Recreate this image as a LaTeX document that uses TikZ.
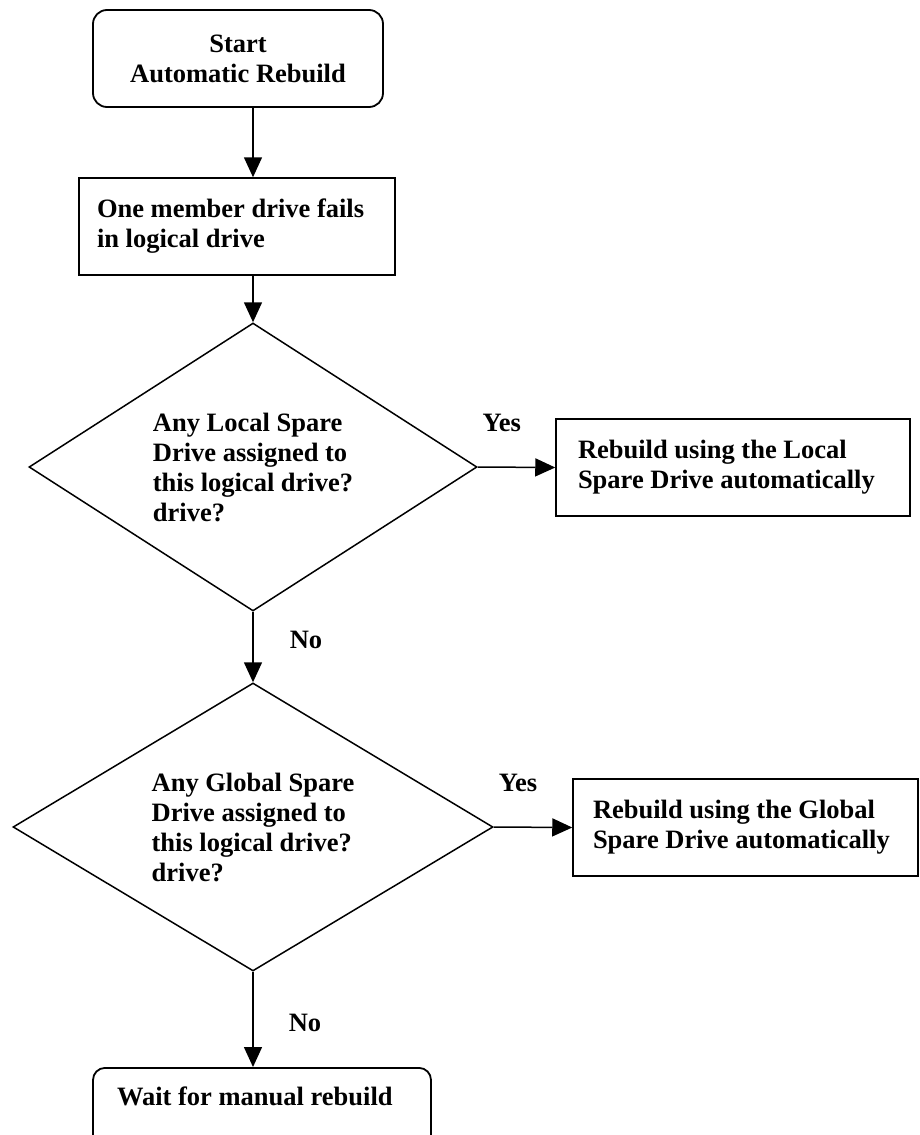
\documentclass[tikz,border=0pt]{standalone}
\usepackage{fontspec}
\setmainfont{Liberation Serif}
\usetikzlibrary{shapes.geometric, arrows.meta}
\tikzstyle{startstop} = [rectangle, rounded corners=14pt, minimum width=290pt, minimum height=97pt, align=center, draw=black, line width=1.8pt]
\tikzstyle{process} = [rectangle, minimum height=97pt, align=flush left, draw=black, line width=1.5pt]
\tikzstyle{decision} = [diamond, inner sep=0pt, align=flush left, draw=black, line width=1.5pt]
\tikzstyle{arrow} = [line width=1.5pt, -{Triangle[length=20pt, width=18pt]}]
\tikzstyle{answer} = [inner sep=0pt]

\begin{document}
\begin{tikzpicture}[x=1pt, y=-1pt, font=\bfseries\fontsize{26.5}{30}\selectfont]
          \path [use as bounding box, clip] (0,0) rectangle (919,1135);

          \node (start)   [startstop] at (238,58.5) {Start\\Automatic Rebuild}; %
          \node (fail)    [process, text width=280pt, inner xsep=18pt] at (237,226.5) {One member drive fails\\in logical drive}; %
          \node (qlocal)  [decision, aspect=1.56, minimum width=448pt, minimum height=288pt] at (253,467) {Any Local Spare\\Drive assigned to\\this logical drive?\\drive?}; %
          \node (rlocal)  [process, text width=310pt, inner xsep=22pt] at (733,467.5) {Rebuild using the Local\\Spare Drive automatically}; %
          \node (qglobal) [decision, aspect=1.67, minimum width=480pt, minimum height=288pt] at (253,827) {Any Global Spare\\Drive assigned to\\this logical drive?\\drive?}; %
          \node (rglobal) [process, text width=305pt, inner xsep=20pt] at (745.5,827.5) {Rebuild using the Global\\Spare Drive automatically}; %
          \node (manual)  [startstop, rounded corners=12pt, minimum width=0pt, minimum height=0pt, align=flush left, text width=290pt, inner xsep=24pt, inner ysep=18pt, text height=20pt, text depth=50pt, anchor=north] at (262,1067) {Wait for manual rebuild}; %

          %% Connections
          \draw [arrow] (start.south -| qlocal) -- (fail.north -| qlocal); %
          \draw [arrow] (fail.south -| qlocal)  -- (qlocal.north); %
          \draw [arrow] (qlocal.east)  -- node[answer, pos=0.31, yshift=44pt] {Yes} (rlocal.west); %
          \draw [arrow] (qlocal.south) -- node[answer, pos=0.4, xshift=53pt]  {No}  (qglobal.north); %
          \draw [arrow] (qglobal.east) -- node[answer, pos=0.31, yshift=44pt] {Yes} (rglobal.west); %
          \draw [arrow] (qglobal.south) -- node[answer, pos=0.54, xshift=52pt] {No} (manual.north -| qglobal); %
        \end{tikzpicture}
\end{document}
